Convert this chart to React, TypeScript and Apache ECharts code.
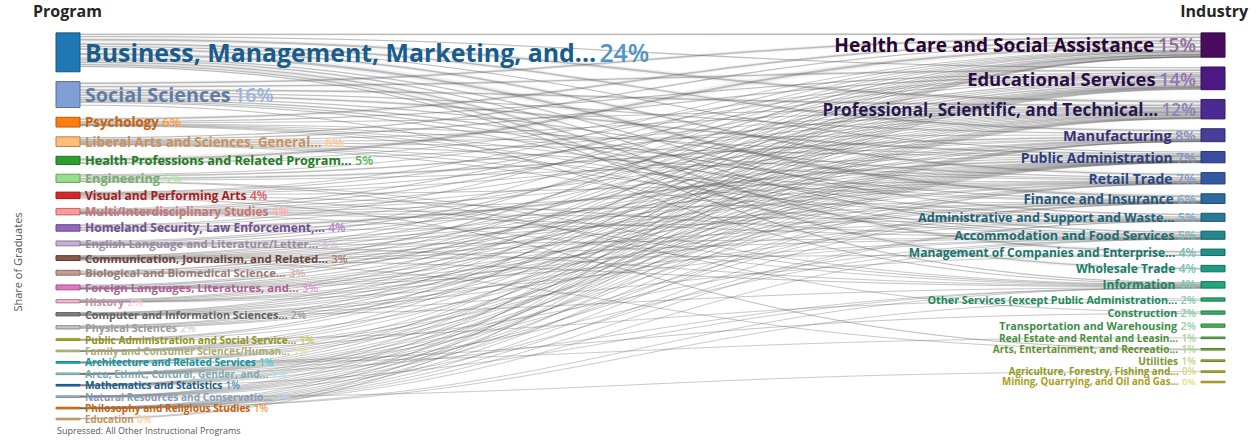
import React, { useEffect, useRef } from "react";
import * as echarts from "echarts";

// ---------- DATA ----------
const programs = [
  "Business, Management, Marketing, and...",
  "Social Sciences",
  "Psychology",
  "Liberal Arts and Sciences, General...",
  "Health Professions and Related Program...",
  "Engineering",
  "Visual and Performing Arts",
  "Multi/Interdisciplinary Studies",
  "Homeland Security, Law Enforcement,...",
  "English Language and Literature/Letter...",
  "Communication, Journalism, and Related...",
  "Biological and Biomedical Science...",
  "Foreign Languages, Literatures, and...",
  "History",
  "Computer and Information Sciences...",
  "Physical Sciences",
  "Public Administration and Social Service...",
  "Family and Consumer Sciences/Human...",
  "Architecture and Related Services",
  "Area, Ethnic, Cultural, Gender, and...",
  "Mathematics and Statistics",
  "Natural Resources and Conservatio...",
  "Philosophy and Religious Studies",
  "Education",
];
const programShare = [24, 16, 6, 6, 5, 5, 4, 4, 4, 3, 3, 3, 3, 2, 2, 2, 1, 1, 1, 1, 1, 1, 1, 0.4];

const industries = [
  "Health Care and Social Assistance",
  "Educational Services",
  "Professional, Scientific, and Technical...",
  "Manufacturing",
  "Public Administration",
  "Retail Trade",
  "Finance and Insurance",
  "Administrative and Support and Waste...",
  "Accommodation and Food Services",
  "Management of Companies and Enterprise...",
  "Wholesale Trade",
  "Information",
  "Other Services (except Public Administration...",
  "Construction",
  "Transportation and Warehousing",
  "Real Estate and Rental and Leasin...",
  "Arts, Entertainment, and Recreatio...",
  "Utilities",
  "Agriculture, Forestry, Fishing and...",
  "Mining, Quarrying, and Oil and Gas...",
];
const industryShare = [15, 14, 12, 8, 7, 7, 6, 5, 5, 4, 4, 4, 2, 2, 2, 1, 1, 1, 0.4, 0.3];

// Estimated share (%) of each program's graduates going to each industry (same order as industries)
const businessFlows = [8, 4, 14, 10, 4, 10, 18, 5, 5, 8, 6, 4, 2, 3, 3, 3, 1, 1, 0, 0];
const socialFlows = [14, 12, 14, 6, 14, 7, 8, 5, 5, 3, 3, 4, 3, 1, 1, 1, 1, 0, 0, 0];
const psychologyFlows = [38, 16, 8, 3, 6, 6, 4, 5, 5, 2, 1, 2, 3, 0, 1, 0, 1, 0, 0, 0];
const liberalFlows = [18, 20, 8, 5, 8, 10, 5, 5, 7, 2, 2, 3, 3, 1, 1, 1, 2, 0, 0, 0];
const healthFlows = [78, 6, 4, 2, 3, 3, 1, 1, 1, 0, 0, 0, 1, 0, 0, 0, 0, 0, 0, 0];
const engineeringFlows = [2, 5, 30, 35, 6, 2, 1, 2, 0, 3, 2, 4, 0, 5, 1, 0, 0, 3, 0, 1];
const visualFlows = [4, 14, 12, 5, 2, 8, 2, 3, 10, 2, 2, 12, 3, 1, 0, 1, 16, 0, 0, 0];
const multiFlows = [16, 20, 12, 6, 6, 7, 5, 4, 5, 2, 2, 4, 3, 1, 1, 1, 2, 1, 0, 0];
const homelandFlows = [6, 2, 4, 2, 62, 5, 2, 6, 2, 1, 0, 0, 2, 0, 2, 0, 1, 0, 0, 0];
const englishFlows = [8, 40, 12, 3, 5, 7, 4, 3, 4, 1, 1, 8, 2, 0, 0, 0, 2, 0, 0, 0];
const communicationFlows = [6, 8, 22, 4, 4, 8, 5, 4, 5, 4, 3, 18, 2, 0, 1, 2, 4, 0, 0, 0];
const biologicalFlows = [40, 18, 20, 7, 4, 3, 1, 1, 1, 1, 1, 0, 1, 0, 0, 0, 0, 0, 1, 0];
const foreignFlows = [8, 38, 14, 5, 6, 6, 5, 4, 5, 2, 2, 3, 2, 0, 1, 0, 1, 0, 0, 0];
const historyFlows = [6, 36, 10, 3, 14, 6, 5, 3, 4, 2, 1, 2, 3, 1, 0, 1, 3, 0, 0, 0];
const computerFlows = [4, 5, 38, 10, 5, 3, 8, 4, 1, 5, 3, 14, 0, 0, 1, 0, 0, 1, 0, 0];
const physicalFlows = [10, 22, 30, 16, 8, 2, 2, 2, 0, 1, 1, 1, 0, 0, 0, 0, 0, 2, 0, 3];
const publicAdminFlows = [62, 6, 3, 1, 15, 3, 1, 2, 1, 0, 0, 0, 5, 0, 0, 0, 1, 0, 0, 0];
const familyFlows = [30, 28, 5, 3, 4, 8, 3, 3, 8, 1, 2, 1, 2, 0, 0, 1, 1, 0, 0, 0];
const architectureFlows = [2, 6, 46, 4, 5, 3, 2, 2, 1, 2, 1, 1, 1, 20, 0, 4, 0, 0, 0, 0];
const areaFlows = [16, 28, 12, 4, 10, 6, 5, 3, 5, 1, 1, 4, 3, 0, 0, 0, 2, 0, 0, 0];
const mathFlows = [6, 28, 22, 6, 6, 3, 16, 2, 1, 3, 1, 4, 0, 0, 0, 0, 0, 1, 0, 0];
const naturalFlows = [4, 12, 18, 5, 28, 5, 2, 4, 3, 1, 2, 1, 2, 3, 1, 1, 3, 2, 5, 0];
const philosophyFlows = [10, 24, 18, 4, 8, 8, 6, 4, 5, 2, 1, 4, 4, 0, 0, 0, 2, 0, 0, 0];
const educationFlows = [8, 74, 2, 1, 3, 3, 1, 1, 2, 0, 0, 0, 3, 0, 0, 0, 2, 0, 0, 0];

const flowRows = [
  businessFlows, socialFlows, psychologyFlows, liberalFlows, healthFlows, engineeringFlows,
  visualFlows, multiFlows, homelandFlows, englishFlows, communicationFlows, biologicalFlows,
  foreignFlows, historyFlows, computerFlows, physicalFlows, publicAdminFlows, familyFlows,
  architectureFlows, areaFlows, mathFlows, naturalFlows, philosophyFlows, educationFlows,
];

// ---------- STYLE ----------
const programColors = [
  "#1f77b4", "#7f9fd6", "#ff7f0e", "#ffbb78", "#2ca02c", "#98df8a", "#d62728", "#ff9896",
  "#9467bd", "#c5b0d5", "#8c564b", "#c49c94", "#e377c2", "#f7b6d2", "#7f7f7f", "#c7c7c7",
  "#bcbd22", "#dbdb8d", "#17becf", "#9edae5", "#1f77b4", "#aec7e8", "#ff7f0e", "#ffbb78",
];
const industryColors = [
  "#4a0b5c", "#4c1984", "#4b2a92", "#483d9a", "#3b4ba0", "#3658a0", "#2f6a9f", "#2a7a97",
  "#24888f", "#21928b", "#1f9c84", "#22a67b", "#2aab70", "#36ae64", "#48b159", "#5fb44d",
  "#7bb742", "#99bb36", "#b7bf2b", "#d3c421",
];
const FONT = "'Open Sans', 'Noto Sans', sans-serif";
const ROW_GAP = 9.8;
const UNIT = 1.62;
const BAR_W = 24;
const MIN_LINK_SHARE = 4;

function mix(hex: string, target: number, t: number) {
  const n = parseInt(hex.slice(1), 16);
  const r = (n >> 16) & 255, g = (n >> 8) & 255, b = n & 255;
  const f = (c: number) => Math.round(c + (target - c) * t);
  return `rgb(${f(r)},${f(g)},${f(b)})`;
}

function stack(vals: number[]) {
  let y = 0;
  return vals.map((v) => {
    const h = ROW_GAP + UNIT * v;
    const c = y + h / 2;
    y += h;
    return { c, bar: Math.max(1.5, UNIT * v) };
  });
}

function fontSizeFor(v: number) {
  return 9.5 + 0.64 * v;
}

export default function App() {
  const ref = useRef<HTMLDivElement>(null);
  useEffect(() => {
    document.body.style.margin = "0";
    if (!ref.current) return;
    const chart = echarts.init(ref.current, undefined, { renderer: "svg" });

    const left = stack(programShare);
    const right = stack(industryShare);

    type L = { i: number; j: number; flow: number; sy: number; ty: number; w: number };
    const links: L[] = [];
    flowRows.forEach((row, i) => {
      const S = row.reduce((a, b) => a + b, 0);
      let cum = 0;
      const top = left[i].c - left[i].bar / 2;
      row.forEach((s, j) => {
        if (!s) return;
        const ws = (left[i].bar * s) / S;
        if (s >= MIN_LINK_SHARE) {
          links.push({ i, j, flow: (programShare[i] * s) / S, sy: top + cum + ws / 2, ty: 0, w: ws });
        }
        cum += ws;
      });
    });
    industries.forEach((_, j) => {
      const inc = links.filter((l) => l.j === j);
      const T = inc.reduce((a, l) => a + l.flow, 0);
      let cum = 0;
      const top = right[j].c - right[j].bar / 2;
      inc.forEach((l) => {
        const wt = (right[j].bar * l.flow) / T;
        l.ty = top + cum + wt / 2;
        cum += wt;
        l.w = (l.w + wt) / 2;
      });
    });

    const linkData = links.map((l) => [0, l.sy, 1, l.ty, l.w, l.flow]);
    const leftData = programs.map((_, i) => [0, left[i].c, left[i].bar, i]);
    const rightData = industries.map((_, j) => [1, right[j].c, right[j].bar, j]);

    const bez = (p0: number[], p1: number[]) => {
      const mx = (p0[0] + p1[0]) / 2;
      return { x1: p0[0], y1: p0[1], x2: p1[0], y2: p1[1], cpx1: mx, cpy1: p0[1], cpx2: mx, cpy2: p1[1] };
    };

    const nodeRender = (side: "L" | "R") => (params: any, api: any) => {
      const x = api.value(0);
      const c = api.value(1);
      const bar = api.value(2);
      const k = api.value(3);
      const p = api.coord([x, c]);
      const t = api.coord([x, c - bar / 2]);
      const b = api.coord([x, c + bar / 2]);
      const v = side === "L" ? programShare[k] : industryShare[k];
      const col = side === "L" ? programColors[k] : industryColors[k];
      const name = side === "L" ? programs[k] : industries[k];
      const fs = fontSizeFor(v);
      const nameCol = side === "L" ? mix(col, 0, 0.22) : mix(col, 0, v >= 12 ? 0.45 : 0.2);
      const pctCol = side === "L" ? mix(col, 255, 0.22) : mix(col, 255, 0.4);
      const text = `{n|${name}} {p|${Math.round(v)}%}`;
      return {
        type: "group",
        children: [
          {
            type: "rect",
            shape: { x: side === "L" ? t[0] - BAR_W : t[0], y: t[1], width: BAR_W, height: b[1] - t[1] },
            style: { fill: col, stroke: mix(col, 0, 0.3), lineWidth: 1 },
          },
          {
            type: "text",
            x: side === "L" ? p[0] + 5 : p[0] - 5,
            y: p[1],
            style: {
              text,
              align: side === "L" ? "left" : "right",
              verticalAlign: "middle",
              rich: {
                n: { fontSize: fs, lineHeight: fs, fontWeight: "bold", fill: nameCol, fontFamily: FONT },
                p: { fontSize: fs, lineHeight: fs, fontWeight: 600, fill: pctCol, fontFamily: FONT },
              },
            },
          },
        ],
      };
    };

    chart.setOption({
      animation: false,
      grid: { left: 80, right: 1257 - 1201, top: 28, height: 400 },
      xAxis: { type: "value", min: 0, max: 1, show: false },
      yAxis: { type: "value", min: 0, max: 400, inverse: true, show: false },
      graphic: [
        { type: "text", left: 33, top: 3, style: { text: "Program", font: `bold 16px ${FONT}`, fill: "#252525" } },
        { type: "text", right: 9, top: 3, style: { text: "Industry", font: `bold 16px ${FONT}`, fill: "#252525" } },
        {
          type: "text", x: 17, y: 262, rotation: Math.PI / 2,
          style: { text: "Share of Graduates", font: `11px ${FONT}`, fill: "#555", align: "center", verticalAlign: "middle" },
        },
        {
          type: "text", left: 57, top: 426,
          style: { text: "Supressed: All Other Instructional Programs", font: `9px ${FONT}`, fill: "#555" },
        },
      ],
      series: [
        {
          type: "custom",
          silent: true,
          data: linkData,
          encode: { x: [0, 2], y: [1, 3] },
          renderItem: (params: any, api: any) => {
            const p0 = api.coord([api.value(0), api.value(1)]);
            const p1 = api.coord([api.value(2), api.value(3)]);
            const w = api.value(4);
            const flow = api.value(5);
            const shape = bez(p0, p1);
            return {
              type: "group",
              children: [
                { type: "bezierCurve", shape, style: { stroke: "rgba(150,150,150,0.12)", fill: "none", lineWidth: Math.max(1, w) } },
                {
                  type: "bezierCurve", shape,
                  style: { stroke: "rgba(70,70,70,0.32)", fill: "none", lineWidth: Math.min(2.2, 0.7 + 0.35 * flow) },
                },
              ],
            };
          },
        },
        { type: "custom", silent: true, data: leftData, encode: { x: 0, y: 1 }, renderItem: nodeRender("L") },
        { type: "custom", silent: true, data: rightData, encode: { x: 0, y: 1 }, renderItem: nodeRender("R") },
      ],
    });
    return () => chart.dispose();
  }, []);
  return <div ref={ref} style={{ width: 1257, height: 444 }} />;
}
